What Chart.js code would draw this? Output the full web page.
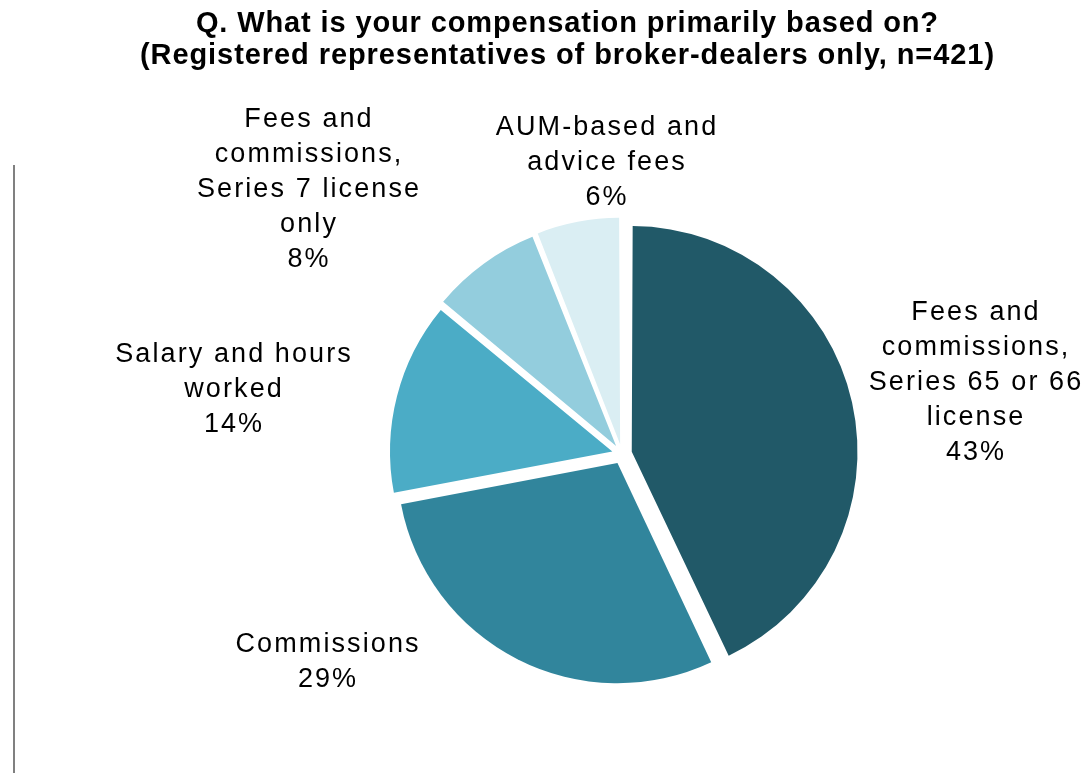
<!DOCTYPE html>
<html>
<head>
<meta charset="utf-8">
<script src="https://cdn.jsdelivr.net/npm/chart.js@4.4.1/dist/chart.umd.min.js"></script>
<style>
    html, body { margin: 0; padding: 0; background: #fff; }
    #wrap { position: relative; width: 1086px; height: 773px; }
</style>
</head>
<body>
<div id="wrap"><canvas id="pie" width="1086" height="773"></canvas></div>
<script>
// данные
const categories = [
    ["Fees and", "commissions,", "Series 65 or 66", "license"],
    ["Commissions"],
    ["Salary and hours", "worked"],
    ["Fees and", "commissions,", "Series 7 license", "only"],
    ["AUM-based and", "advice fees"]
];
const shares = [43, 29, 14, 8, 6];
const sliceColors = ["#215968", "#31859c", "#4bacc6", "#93cddd", "#daeef3"];

const titleLines = [
    "Q. What is your compensation primarily based on?",
    "(Registered representatives of broker-dealers only, n=421)"
];

// где стоят подписи (центр по x, базовая линия первой строки)
const labelPos = [
    {x: 975, y: 320},
    {x: 327, y: 652},
    {x: 233, y: 362},
    {x: 308, y: 127},
    {x: 606, y: 135}
];

const FONT = "'Liberation Sans', Arial, sans-serif";
const LABEL_LS = 2.1;

// текст по ширине: подбираем межбуквенный интервал
const fitText = (ctx, text, cx, y, width) => {
    ctx.letterSpacing = "0px";
    const w = ctx.measureText(text).width;
    const ls = (width - w) / text.length;
    ctx.letterSpacing = ls + "px";
    const w2 = ctx.measureText(text).width - ls;
    ctx.fillText(text, cx - w2 / 2, y);
    ctx.letterSpacing = "0px";
}

const textPlugin = {
    id: "texts",
    afterDraw(chart) {
        const ctx = chart.ctx;
        ctx.save();
        ctx.fillStyle = "#000";
        ctx.textBaseline = "alphabetic";
        ctx.textAlign = "left";

        // заголовок
        ctx.font = "bold 29px " + FONT;
        fitText(ctx, titleLines[0], 567, 32, 743);
        fitText(ctx, titleLines[1], 567, 64, 855);

        // подписи долей
        ctx.font = "27px " + FONT;
        ctx.letterSpacing = LABEL_LS + "px";
        categories.forEach((lines, i) => {
            const all = lines.concat([shares[i] + "%"]);
            all.forEach((line, j) => {
                const w = ctx.measureText(line).width - LABEL_LS;
                ctx.fillText(line, labelPos[i].x - w / 2, labelPos[i].y + j * 35);
            });
        });
        ctx.letterSpacing = "0px";

        // серая линия слева
        ctx.strokeStyle = "#808080";
        ctx.lineWidth = 2;
        ctx.beginPath();
        ctx.moveTo(14, 165);
        ctx.lineTo(14, 773);
        ctx.stroke();
        ctx.restore();
    }
}

new Chart(document.getElementById("pie").getContext("2d"), {
    type: "pie",
    data: {
        labels: categories.map(l => l.join(" ")),
        datasets: [{
            data: shares,
            backgroundColor: sliceColors,
            borderWidth: 0,
            offset: 40   // chart.js делит на 4 -> ~10px
        }]
    },
    options: {
        responsive: false,
        animation: false,
        events: [],
        radius: 220,
        layout: {
            padding: {left: 158, right: 0, top: 135, bottom: 0}
        },
        plugins: {
            legend: { display: false },
            title: { display: false },
            tooltip: { enabled: false }
        }
    },
    plugins: [textPlugin]
});
</script>
</body>
</html>
